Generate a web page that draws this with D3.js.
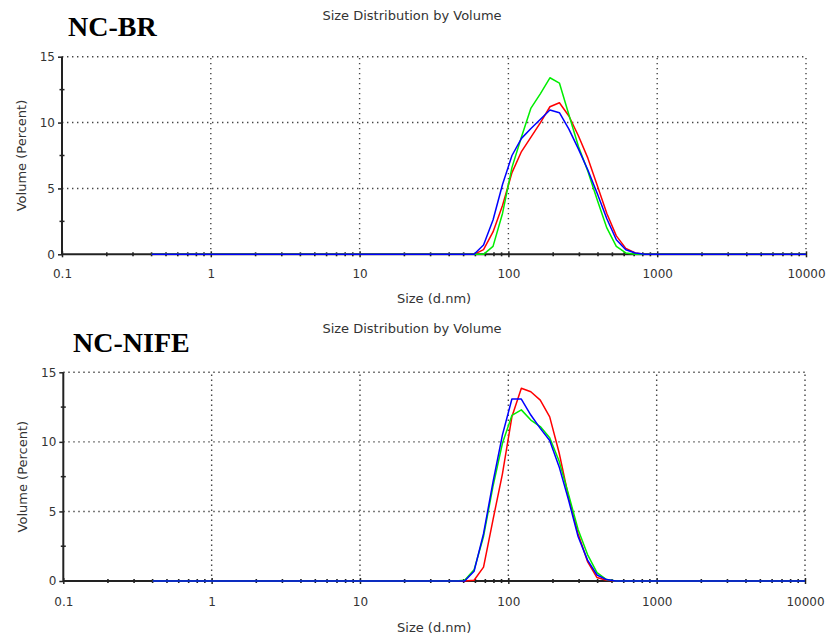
<!DOCTYPE html>
<html>
<head>
<meta charset="utf-8">
<script src="https://cdn.jsdelivr.net/npm/d3@7"></script>
<style>
  html, body { margin: 0; padding: 0; background: #fff; }
  svg { display: block; }
  text { font-family: "DejaVu Sans", Verdana, sans-serif; }
</style>
</head>
<body>
<svg id="chart" width="828" height="641"></svg>
<script>
// Size bins (d.nm) of the size distribution
const sizes = [0.4, 0.4632, 0.5365, 0.6213, 0.7195, 0.8332, 0.9649, 1.117, 1.294, 1.499,
  1.736, 2.010, 2.328, 2.696, 3.122, 3.615, 4.187, 4.849, 5.615, 6.503,
  7.531, 8.721, 10.10, 11.70, 13.54, 15.69, 18.17, 21.04, 24.36, 28.21,
  32.67, 37.84, 43.82, 50.75, 58.77, 68.06, 78.82, 91.28, 105.7, 122.4,
  141.8, 164.2, 190.1, 220.2, 255.0, 295.3, 342.0, 396.1, 458.7, 531.2,
  615.1, 712.4, 825.0, 955.4, 1106, 1281, 1484, 1718, 1990, 2305,
  2669, 3091, 3580, 4145, 4801, 5560, 6439, 7456, 8635, 10000];

// NC-BR volume distributions (percent), one value per size bin
const brRed = [0,0,0,0,0,0,0,0,0,0, 0,0,0,0,0,0,0,0,0,0, 0,0,0,0,0,0,0,0,0,0, 0,0,0,
  0, 0, 0.35, 1.7, 3.7, 6.2, 7.8, 8.9, 10.0, 11.2, 11.5, 10.5, 9.0, 7.3, 5.2, 3.1, 1.4, 0.45, 0.1, 0,
  0,0,0,0,0,0,0,0,0,0,0,0,0,0,0,0,0];
const brGreen = [0,0,0,0,0,0,0,0,0,0, 0,0,0,0,0,0,0,0,0,0, 0,0,0,0,0,0,0,0,0,0, 0,0,0,
  0, 0, 0, 0.6, 3.1, 6.6, 8.9, 11.1, 12.2, 13.4, 13.0, 10.6, 8.2, 6.3, 4.1, 2.0, 0.6, 0.1, 0, 0,
  0,0,0,0,0,0,0,0,0,0,0,0,0,0,0,0,0];
const brBlue = [0,0,0,0,0,0,0,0,0,0, 0,0,0,0,0,0,0,0,0,0, 0,0,0,0,0,0,0,0,0,0, 0,0,0,
  0, 0, 0.7, 2.6, 5.3, 7.5, 8.8, 9.55, 10.25, 10.95, 10.75, 9.5, 8.0, 6.4, 4.6, 2.7, 1.1, 0.35, 0.1, 0,
  0,0,0,0,0,0,0,0,0,0,0,0,0,0,0,0,0];

// NC-NIFE volume distributions (percent)
const nifeRed = [0,0,0,0,0,0,0,0,0,0, 0,0,0,0,0,0,0,0,0,0, 0,0,0,0,0,0,0,0,0,0, 0,0,0,
  0, 0.05, 1.0, 4.4, 7.7, 11.8, 13.85, 13.6, 13.0, 11.8, 9.2, 6.0, 3.4, 1.4, 0.25, 0.05, 0, 0, 0, 0,
  0,0,0,0,0,0,0,0,0,0,0,0,0,0,0,0,0];
const nifeGreen = [0,0,0,0,0,0,0,0,0,0, 0,0,0,0,0,0,0,0,0,0, 0,0,0,0,0,0,0,0,0,0, 0,0,0,
  0.05, 0.8, 3.2, 6.8, 9.9, 11.9, 12.3, 11.57, 11.1, 10.3, 8.6, 6.2, 3.7, 1.9, 0.6, 0.1, 0, 0, 0, 0,
  0,0,0,0,0,0,0,0,0,0,0,0,0,0,0,0,0];
const nifeBlue = [0,0,0,0,0,0,0,0,0,0, 0,0,0,0,0,0,0,0,0,0, 0,0,0,0,0,0,0,0,0,0, 0,0,0,
  0, 0.7, 3.4, 7.1, 10.5, 13.08, 13.08, 11.93, 10.97, 10.1, 8.2, 5.8, 3.2, 1.5, 0.43, 0.1, 0, 0, 0, 0,
  0,0,0,0,0,0,0,0,0,0,0,0,0,0,0,0,0];

// Axis ticks and labels
const xTicks = [0.1, 1, 10, 100, 1000, 10000];
const xTickLabels = ["0.1", "1", "10", "100", "1000", "10000"];
const yTicks = [0, 5, 10, 15];
const yMinorTicks = [2.5, 7.5, 12.5];

const svg = d3.select("#chart");

function drawPanel(p) {
  const x = d3.scaleLog().domain([0.1, 10000]).range([p.x0, p.x1]);
  const y = d3.scaleLinear().domain([0, 15]).range([p.y0, p.y1]);
  const g = svg.append("g");

  // Sample name
  g.append("text")
    .attr("x", p.nameX).attr("y", p.nameY)
    .style("font-family", "'Liberation Serif', 'Times New Roman', serif")
    .style("font-weight", "bold").style("font-size", "28px")
    .attr("fill", "#000").text(p.name);

  // Chart title
  g.append("text")
    .attr("x", 412).attr("y", p.titleY)
    .attr("text-anchor", "middle").style("font-size", "13px")
    .attr("fill", "#333").text("Size Distribution by Volume");

  // Dotted grid
  const grid = g.append("g").attr("stroke", "#444").attr("stroke-width", 1.4)
    .attr("stroke-dasharray", "1.4,3.6");
  grid.selectAll("line.v").data(xTicks.slice(1)).join("line")
    .attr("x1", d => x(d)).attr("x2", d => x(d))
    .attr("y1", y(0)).attr("y2", y(15));
  grid.selectAll("line.h").data(yTicks.slice(1)).join("line")
    .attr("x1", x(0.1)).attr("x2", x(10000))
    .attr("y1", d => y(d)).attr("y2", d => y(d));

  // Y axis
  const yAxis = g.append("g").attr("transform", `translate(${x(0.1)},0)`)
    .call(d3.axisLeft(y).tickValues(yTicks).tickSize(4).tickFormat(d3.format("d")));
  yAxis.select(".domain").attr("stroke", "#222").attr("stroke-width", 2)
    .attr("d", `M0,${y(0)}V${y(15)}`);
  yAxis.selectAll(".tick line").attr("stroke", "#222").attr("stroke-width", 1.5);
  yAxis.selectAll(".tick text").attr("x", -7).attr("fill", "#333")
    .style("font-size", "12px").style("font-family", "'DejaVu Sans', Verdana, sans-serif");
  g.append("g").selectAll("line").data(yMinorTicks).join("line")
    .attr("x1", x(0.1) - 2.5).attr("x2", x(0.1) + 2.5)
    .attr("y1", d => y(d)).attr("y2", d => y(d))
    .attr("stroke", "#222").attr("stroke-width", 1.5);

  // X axis
  const xAxis = g.append("g").attr("transform", `translate(0,${y(0)})`)
    .call(d3.axisBottom(x).tickValues(xTicks).tickSize(3)
      .tickFormat((d, i) => xTickLabels[i]));
  xAxis.select(".domain").attr("stroke", "#222").attr("stroke-width", 2)
    .attr("d", `M${x(0.1)},0H${x(10000)}`);
  xAxis.selectAll(".tick line").attr("stroke", "#222").attr("stroke-width", 1.5)
    .attr("y1", -3).attr("y2", 3);
  xAxis.selectAll(".tick text").attr("y", p.tickLabelDy).attr("dy", 0).attr("fill", "#333")
    .style("font-size", "12px").style("font-family", "'DejaVu Sans', Verdana, sans-serif");
  const minor = x.ticks().filter(t => !xTicks.some(m => Math.abs(m - t) / m < 1e-6));
  g.append("g").selectAll("line").data(minor).join("line")
    .attr("x1", d => x(d)).attr("x2", d => x(d))
    .attr("y1", y(0) - 2).attr("y2", y(0) + 2)
    .attr("stroke", "#222").attr("stroke-width", 1.6);

  // Axis titles
  g.append("text")
    .attr("transform", `translate(${p.yLabelX},${(p.y0 + p.y1) / 2}) rotate(-90)`)
    .attr("text-anchor", "middle").attr("dy", "0.35em")
    .style("font-size", "13px").attr("fill", "#333").text("Volume (Percent)");
  g.append("text")
    .attr("x", (p.x0 + p.x1) / 2).attr("y", p.xLabelY)
    .attr("text-anchor", "middle").style("font-size", "13px")
    .attr("fill", "#333").text("Size (d.nm)");

  // Distribution curves
  const line = d3.line().x((d, i) => x(sizes[i])).y(d => y(d));
  p.series.forEach(s => {
    g.append("path").datum(s.values)
      .attr("d", line).attr("fill", "none")
      .attr("stroke", s.color).attr("stroke-width", 1.5)
      .attr("stroke-linejoin", "round");
  });
}

drawPanel({
  name: "NC-BR", nameX: 68, nameY: 36, titleY: 19.5,
  x0: 62, x1: 806, y0: 254.3, y1: 56.7,
  yLabelX: 21, xLabelY: 303, tickLabelDy: 24,
  series: [
    { values: brRed, color: "#ff0000" },
    { values: brGreen, color: "#00ee00" },
    { values: brBlue, color: "#0000ff" }
  ]
});

drawPanel({
  name: "NC-NIFE", nameX: 73, nameY: 352, titleY: 333,
  x0: 63.3, x1: 805, y0: 581, y1: 372.3,
  yLabelX: 22, xLabelY: 632, tickLabelDy: 25,
  series: [
    { values: nifeRed, color: "#ff0000" },
    { values: nifeGreen, color: "#00ee00" },
    { values: nifeBlue, color: "#0000ff" }
  ]
});
</script>
</body>
</html>
